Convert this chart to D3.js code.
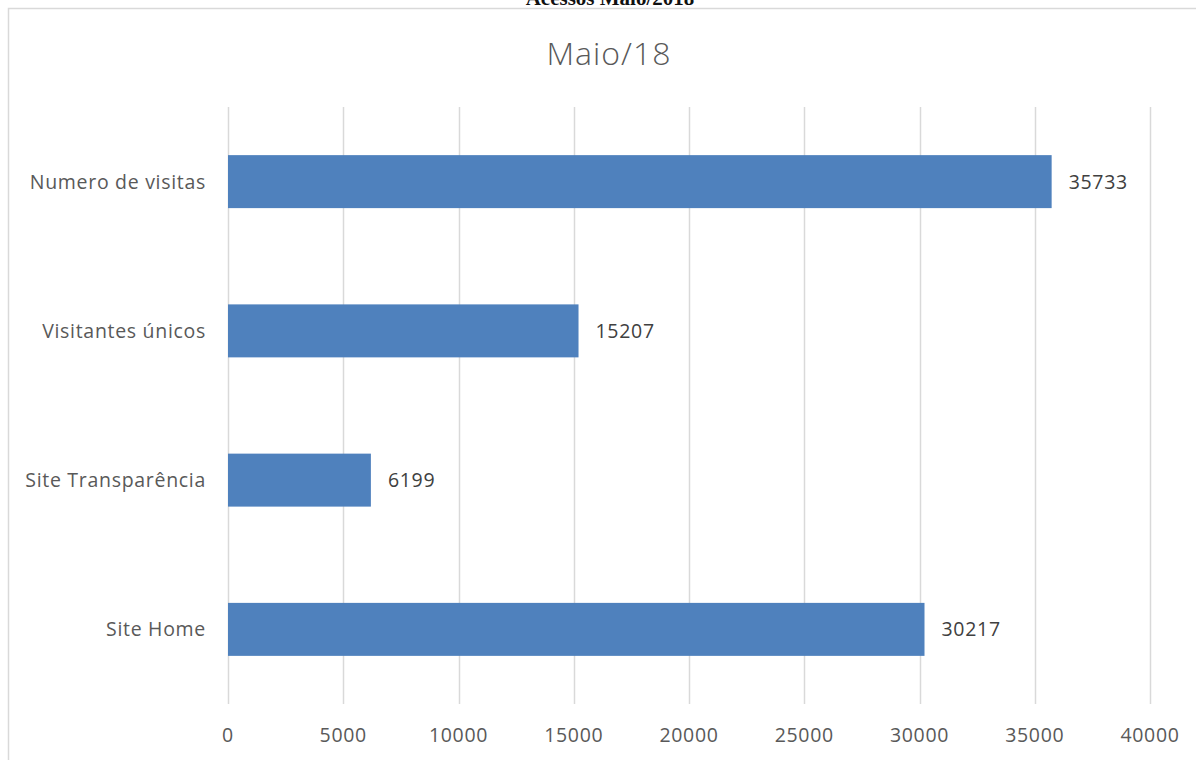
<!DOCTYPE html>
<html><head><meta charset="utf-8">
<script src="https://cdn.jsdelivr.net/npm/d3@7"></script>
<style>body{margin:0;background:#fff}svg{display:block}</style>
</head><body>
<svg id="c" width="1196" height="760"></svg>
<script>
const categories = ["Numero de visitas", "Visitantes únicos", "Site Transparência", "Site Home"];
const values = [35733, 15207, 6199, 30217];
const tickValues = [0, 5000, 10000, 15000, 20000, 25000, 30000, 35000, 40000];
const chartTitle = "Maio/18";
const pageTitle = "Acessos Maio/2018";

const svg = d3.select("#c");
const font = "'Open Sans', 'Noto Sans', sans-serif";
const fs = 19.5, ls = 0.7;
const x = d3.scaleLinear().domain([0, 40000]).range([228, 1150]);
const y = d3.scaleBand().domain(categories).range([107, 704]).paddingInner(0.645).paddingOuter(0.3225);

svg.append("text").attr("x", 610).attr("y", 5).attr("text-anchor", "middle")
  .attr("font-family", "'Liberation Serif', serif").attr("font-size", 21).attr("font-weight", "bold")
  .attr("fill", "#111").text(pageTitle);

svg.append("rect").attr("x", 8.5).attr("y", 8.5).attr("width", 1200).attr("height", 800)
  .attr("fill", "#fff").attr("stroke", "#d9d9d9").attr("stroke-width", 1.5);

svg.append("text").attr("x", 609).attr("y", 65).attr("text-anchor", "middle")
  .attr("font-family", font).attr("font-size", 32).attr("font-weight", 300).attr("letter-spacing", 1).attr("fill", "#595959").text(chartTitle);

svg.append("g").selectAll("line").data(tickValues).join("line")
  .attr("x1", d => Math.round(x(d)) + 0.5).attr("x2", d => Math.round(x(d)) + 0.5)
  .attr("y1", 107).attr("y2", 704).attr("stroke", "#d9d9d9").attr("stroke-width", 1.5);

svg.append("g").selectAll("text").data(tickValues).join("text")
  .attr("x", d => x(d)).attr("y", 742).attr("text-anchor", "middle")
  .attr("font-family", font).attr("font-size", fs).attr("letter-spacing", ls).attr("fill", "#595959").text(d => d);

svg.append("g").selectAll("rect").data(values).join("rect")
  .attr("x", x(0)).attr("y", (d, i) => y(categories[i]))
  .attr("width", d => x(d) - x(0)).attr("height", y.bandwidth())
  .attr("fill", "#4f81bd");

svg.append("g").selectAll("text").data(values).join("text")
  .attr("x", d => x(d) + 17).attr("y", (d, i) => y(categories[i]) + y.bandwidth() / 2 + 7)
  .attr("font-family", font).attr("font-size", fs).attr("letter-spacing", ls).attr("fill", "#404040").text(d => d);

svg.append("g").selectAll("text").data(categories).join("text")
  .attr("x", 206).attr("y", d => y(d) + y.bandwidth() / 2 + 7).attr("text-anchor", "end")
  .attr("font-family", font).attr("font-size", fs).attr("letter-spacing", ls).attr("fill", "#595959").text(d => d);
</script>
</body></html>
